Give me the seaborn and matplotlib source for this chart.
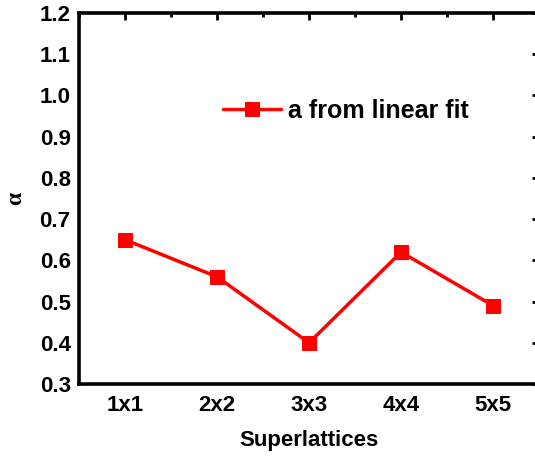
import matplotlib
matplotlib.use("Agg")
import matplotlib.pyplot as plt
import seaborn as sns
import pandas as pd
from matplotlib.ticker import MultipleLocator

categories = ["1x1", "2x2", "3x3", "4x4", "5x5"]
alpha_values = [0.65, 0.56, 0.40, 0.62, 0.49]
series_label = "a from linear fit"

sns.set_theme(style="white")
plt.rcParams['font.family'] = ['Liberation Sans', 'DejaVu Sans']
plt.rcParams['font.weight'] = 'bold'
plt.rcParams['text.color'] = 'black'
plt.rcParams['axes.labelcolor'] = 'black'
plt.rcParams['xtick.color'] = 'black'
plt.rcParams['ytick.color'] = 'black'

df = pd.DataFrame({"Superlattices": categories, "alpha": alpha_values})

fig = plt.figure(figsize=(5.35, 4.66), dpi=100)
ax = fig.add_axes([0.1477, 0.176, 0.86, 0.796])

sns.lineplot(data=df, x="Superlattices", y="alpha", ax=ax, color="#ff0000",
             marker="s", markersize=10, markeredgecolor="#ff0000", linewidth=2.5,
             label=series_label, sort=False)

ax.set_xlim(-0.5, 4.5)
ax.set_ylim(0.3, 1.2)
ax.yaxis.set_major_locator(MultipleLocator(0.1))
ax.yaxis.set_minor_locator(MultipleLocator(0.05))
ax.xaxis.set_minor_locator(MultipleLocator(0.5))

for s in ax.spines.values():
    s.set_linewidth(2.6)
    s.set_color("black")

ax.tick_params(axis="both", which="major", direction="in", length=5, width=2,
               labelsize=16, top=True, right=True, color="black", labelcolor="black")
ax.tick_params(axis="x", which="major", pad=8)
ax.tick_params(axis="y", which="major", pad=6)
ax.tick_params(axis="both", which="minor", direction="in", length=3, width=2,
               top=True, right=True, color="black")
ax.set_yticks([0.3, 0.4, 0.5, 0.6, 0.7, 0.8, 0.9, 1.0, 1.1, 1.2])
ax.set_yticklabels(["0.3", "0.4", "0.5", "0.6", "0.7", "0.8", "0.9", "1.0", "1.1", "1.2"],
                   fontweight="bold", fontsize=16)
for lbl in ax.get_xticklabels():
    lbl.set_fontweight("bold")
    lbl.set_fontsize(16)

ax.set_xlabel("Superlattices", fontsize=16, fontweight="bold", labelpad=10, color="black")
ax.set_ylabel("α", fontsize=17, fontweight="bold", family=["Liberation Serif", "DejaVu Serif"],
              labelpad=10, color="black")

leg = ax.legend(loc="center left", bbox_to_anchor=(0.265, 0.736), frameon=False,
                fontsize=18, handlelength=2.3, handletextpad=0.3)
for t in leg.get_texts():
    t.set_fontweight("bold")
    t.set_color("black")

fig.savefig("out.png", dpi=100)
